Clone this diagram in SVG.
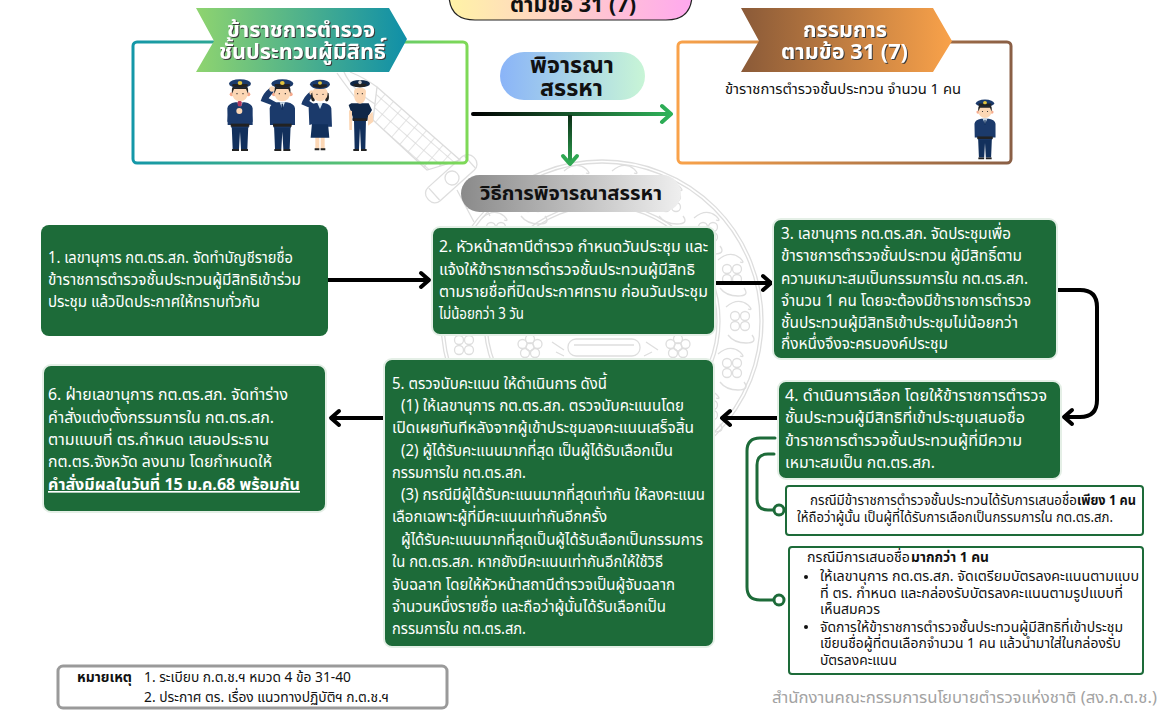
<svg xmlns="http://www.w3.org/2000/svg" width="1159" height="719" viewBox="0 0 1159 719">
<style>
text{font-family:"Noto Sans","Noto Sans Thai","Liberation Sans","DejaVu Sans",sans-serif}
.g{fill:#1d6b39;stroke:#e4efe6;stroke-width:2}
.w{fill:#fff;font-size:16.5px}
.k{fill:#111;font-size:14px}
.b{font-weight:700}
.ban{fill:#fff;font-weight:700;font-size:22px;filter:drop-shadow(1px 1px 0 #3a3a3a)}
.h{fill:#111;font-weight:700}
.ar{fill:none;stroke:#000;stroke-width:4;stroke-linecap:round;stroke-linejoin:round}
.gl{fill:none;stroke:#1d6b39;stroke-width:3;stroke-linecap:round}
.dot{fill:#fff;stroke:#1d6b39;stroke-width:3}
.case{fill:#fff;stroke:#1d6b39;stroke-width:2}
.wm{fill:none;stroke:#dedede;stroke-width:1.300}
.navy{fill:#1b3a6b}
.dk{fill:#12305c}
.blk{fill:#222}
.skin{fill:#fcd7b5}
.ear{fill:#f6a98c}
.gold{fill:#e3c43d}
</style>
<defs>
<linearGradient id="gA" x1="0" x2="1" y1="0" y2="0"><stop offset="0" stop-color="#8fd46f"/><stop offset="1" stop-color="#0f8fa8"/></linearGradient>
<linearGradient id="sA" x1="0" x2="1" y1="0" y2="0"><stop offset="0" stop-color="#1497a8"/><stop offset="1" stop-color="#7ed957"/></linearGradient>
<linearGradient id="gB" x1="0" x2="1" y1="0" y2="0"><stop offset="0" stop-color="#8a5a38"/><stop offset="1" stop-color="#f9a24a"/></linearGradient>
<linearGradient id="sB" x1="0" x2="1" y1="0" y2="0"><stop offset="0" stop-color="#f9a24a"/><stop offset="1" stop-color="#8a5f45"/></linearGradient>
<linearGradient id="gP" x1="0" x2="1" y1="0" y2="0"><stop offset="0" stop-color="#fff3a6"/><stop offset="1" stop-color="#ffa8ee"/></linearGradient>
<linearGradient id="gC" x1="0" x2="1" y1="0" y2="0"><stop offset="0" stop-color="#8ab4f8"/><stop offset="1" stop-color="#c8f5d6"/></linearGradient>
<linearGradient id="gM" x1="0" x2="1" y1="0" y2="0"><stop offset="0" stop-color="#8a8a8a"/><stop offset="1" stop-color="#efefef"/></linearGradient>
<linearGradient id="lH" gradientUnits="userSpaceOnUse" x1="473" x2="672" y1="114" y2="114"><stop offset="0" stop-color="#000"/><stop offset="1" stop-color="#2fb45a"/></linearGradient>
<linearGradient id="lV" gradientUnits="userSpaceOnUse" x1="570" x2="570" y1="114" y2="165"><stop offset="0" stop-color="#0a2a14"/><stop offset="1" stop-color="#2fa853"/></linearGradient>
<pattern id="net" width="11" height="11" patternUnits="userSpaceOnUse" patternTransform="rotate(41)"><path d="M0 0H11M0 0V11" fill="none" stroke="#d8d8d8" stroke-width="1.400"/></pattern>
<g id="orn" class="wm"><circle cx="-5" cy="-5" r="4.500"/><circle cx="5" cy="-5" r="4.500"/><circle cx="-5" cy="5" r="4.500"/><circle cx="5" cy="5" r="4.500"/><path d="M-14 -14 Q-2 -24 8 -16 Q14 -10 8 -12 M12 14 Q18 22 6 22 Q-6 22 -12 14"/></g>
<g id="flower" class="wm"><circle r="4"/><circle cx="0" cy="-8" r="4.500"/><circle cx="7.500" cy="-3" r="4.500"/><circle cx="5" cy="6" r="4.500"/><circle cx="-5" cy="6" r="4.500"/><circle cx="-7.500" cy="-3" r="4.500"/></g>
<g id="head">
<circle class="ear" cx="-25" cy="58" r="6"/><circle class="ear" cx="25" cy="58" r="6"/>
<circle class="skin" cy="55" r="24"/>
<path class="blk" d="M-24 56 Q-26 38 -20 34 H20 Q26 38 24 56 L18 42 H-18Z"/>
<circle class="blk" cx="-9" cy="56" r="2"/><circle class="blk" cx="9" cy="56" r="2"/>
<ellipse class="navy" cy="26" rx="33" ry="13"/>
<path class="blk" d="M-24 33 Q0 44 24 33 L22 27 H-22Z"/>
<ellipse class="gold" cy="24" rx="7" ry="6"/>
</g>
<g id="man">
<path class="dk" d="M-25 150 H25 L22 222 H3 L0 170 L-3 222 H-22Z"/>
<path class="blk" d="M-24 222 H-3 V228 H-24Z M3 222 H24 V228 H3Z"/>
<path class="navy" d="M-37 150 L-38 100 Q-36 86 -14 82 H14 Q36 86 38 100 L38 150 H26 V158 H-26 V150Z"/>
<path d="M-8 82 L0 102 L8 82Z" fill="#dcebf5"/><path class="dk" d="M-2 86 H2 L3 104 H-3Z"/>
<rect class="blk" x="-28" y="146" width="56" height="9"/>
<use href="#head"/>
</g>
</defs>
<g id="watermark">
<circle class="wm" cx="602" cy="321" r="161"/><circle class="wm" cx="602" cy="321" r="158"/><circle class="wm" cx="602" cy="321" r="118"/><circle class="wm" cx="602" cy="321" r="115"/>
<use href="#orn" x="626" y="185"/><use href="#orn" x="671" y="202"/><use href="#orn" x="708" y="232"/><use href="#orn" x="732" y="274"/><use href="#orn" x="740" y="321"/><use href="#orn" x="732" y="368"/><use href="#orn" x="708" y="410"/>
<use href="#orn" x="578" y="185"/><use href="#orn" x="533" y="202"/><use href="#orn" x="496" y="232"/><use href="#orn" x="464" y="345"/>
<use href="#flower" x="530" y="347"/><use href="#flower" x="678" y="347"/>
<rect class="wm" x="568" y="339" width="72" height="17" rx="8"/><path class="wm" d="M574 345 H634 M552 342 L564 350 M646 342 L658 350 M556 352 L564 356 M644 356 L652 352"/>
<path d="M377 87 L460 160 L427 170 L373 120Z" fill="url(#net)" stroke="#dcdcdc" stroke-width="1.300"/>
<path class="wm" d="M337 73 Q345 85 373 120 M350 72 Q365 78 377 87 M344 72 Q352 90 375 104"/>
<g class="wm" transform="translate(452 178) rotate(-42)"><rect x="-32" y="-9" width="62" height="18" rx="8"/><circle r="7"/><path d="M-24 -8 V8 M24 -8 V8"/></g>
<path class="wm" d="M457 190 L474 222 M472 184 L490 216 M461 199 L478 190 M467 209 L484 200"/>
</g>
<g id="pill-top">
<path d="M449 -30 H692 V-6 Q692 20 666 20 H475 Q449 20 449 -6Z" fill="url(#gP)" stroke="#222" stroke-width="1.200"/>
<text class="h" x="510" y="12" font-size="21" textLength="126" lengthAdjust="spacingAndGlyphs">ตามข้อ 31 (7)</text>
</g>
<g id="group-officers">
<rect x="133" y="42" width="334" height="121" rx="4" fill="none" stroke="url(#sA)" stroke-width="3"/>
<path d="M196 8 H389 L407 39 L389 72 H196 L214 41Z" fill="url(#gA)"/>
<text class="ban" x="227" y="37" textLength="148" lengthAdjust="spacingAndGlyphs">ข้าราชการตำรวจ</text>
<text class="ban" x="219" y="59" textLength="167" lengthAdjust="spacingAndGlyphs">ชั้นประทวนผู้มีสิทธิ์</text>
<g transform="translate(220 75) scale(.3333)">
<use href="#man" x="60"/>
<path class="navy" d="M22 140 L26 100 L58 112 L50 140Z M98 140 L94 100 L64 112 L70 140Z"/><circle class="skin" cx="58" cy="108" r="9"/><rect x="53" y="78" width="12" height="16" rx="4" fill="#b0355a"/>
<use href="#man" x="187"/>
<path class="navy" d="M160 92 L122 78 Q128 55 150 38 L161 50 L146 70 L172 84Z"/><circle class="skin" cx="156" cy="42" r="8"/>
<g transform="translate(300 0)">
<path class="skin" d="M-14 185 H-2 V222 H-14Z M2 185 H14 V222 H2Z"/><path class="blk" d="M-16 220 H-2 V226 H-16Z M2 220 H16 V226 H2Z"/>
<path class="dk" d="M-24 145 H24 L28 188 H-28Z"/>
<path class="navy" d="M-32 150 L-34 100 Q-32 88 -12 84 H12 Q32 88 34 100 L36 155 H24 V148 H-24Z"/>
<path d="M-8 84 L0 102 L8 84Z" fill="#dcebf5"/>
<path class="navy" d="M-28 100 L-56 88 Q-50 65 -30 50 L-20 60 L-32 78 L-14 90Z"/><circle class="skin" cx="-25" cy="53" r="7"/>
<path class="blk" d="M-26 55 Q-30 85 -16 78 L-16 50Z M26 55 Q30 85 16 78 L16 50Z"/>
<circle class="skin" cy="56" r="23"/><circle class="blk" cx="-9" cy="58" r="2"/><circle class="blk" cx="9" cy="58" r="2"/>
<ellipse class="navy" cy="28" rx="30" ry="14"/><path class="blk" d="M-22 34 Q0 44 22 34 L20 28 H-20Z"/><ellipse class="gold" cy="24" rx="6" ry="5"/>
</g>
<g transform="translate(420 0)">
<path class="dk" d="M-18 135 H18 L16 222 H3 L0 160 L-3 222 H-16Z"/><path class="blk" d="M-20 222 H-3 V228 H-20Z M3 222 H20 V228 H3Z"/>
<path d="M-34 90 L-26 85 H26 L36 105 L24 125 L22 135 H-22 L-22 125Z" fill="#0f2748"/>
<path class="skin" d="M-33 106 L-24 108 L-24 165 L-32 165Z M24 122 L38 110 L40 140 L24 152Z"/>
<rect class="blk" x="-22" y="130" width="44" height="8"/>
<path class="skin" d="M-18 50 Q-18 38 0 38 Q18 38 18 50 L16 72 Q10 86 0 86 Q-10 86 -16 72Z"/><circle class="blk" cx="-7" cy="56" r="1.800"/><circle class="blk" cx="7" cy="56" r="1.800"/>
<ellipse cx="0" cy="26" rx="30" ry="11" fill="#0f2748"/><path class="blk" d="M-20 32 Q0 42 20 32 L18 26 H-18Z"/><ellipse cy="22" rx="5" ry="6" fill="#c9c9c9"/>
</g>
</g>
</g>
<g id="group-committee">
<rect x="678" y="42" width="333" height="121" rx="4" fill="none" stroke="url(#sB)" stroke-width="3"/>
<path d="M741 8 H933 L952 41 L933 72 H741 L759 41Z" fill="url(#gB)"/>
<text class="ban" x="803" y="37" textLength="84" lengthAdjust="spacingAndGlyphs">กรรมการ</text>
<text class="ban" x="781" y="59" textLength="127" lengthAdjust="spacingAndGlyphs">ตามข้อ 31 (7)</text>
<text class="k" x="725" y="94" textLength="236" lengthAdjust="spacingAndGlyphs">ข้าราชการตำรวจชั้นประทวน จำนวน 1 คน</text>
<g transform="translate(985 96) scale(.277)"><use href="#man"/></g>
</g>
<g id="pill-consider">
<rect x="500" y="52" width="145" height="48" rx="24" fill="url(#gC)"/>
<text class="h" x="530" y="73" font-size="23" textLength="84" lengthAdjust="spacingAndGlyphs">พิจารณา</text>
<text class="h" x="540" y="96" font-size="23" textLength="63" lengthAdjust="spacingAndGlyphs">สรรหา</text>
</g>
<g id="pill-method">
<rect x="461" y="175" width="220" height="37" rx="18.500" fill="url(#gM)"/>
<text class="h" x="480" y="200" font-size="19" textLength="182" lengthAdjust="spacingAndGlyphs">วิธีการพิจารณาสรรหา</text>
</g>
<g id="connectors">
<path d="M473 114 H670 M662 106 L671 114 L662 122" fill="none" stroke="url(#lH)" stroke-width="4" stroke-linecap="round" stroke-linejoin="round"/>
<path d="M570 115 V163" fill="none" stroke="url(#lV)" stroke-width="4"/>
<path d="M563 156 L570 164 L577 156" fill="none" stroke="#2fa853" stroke-width="4" stroke-linecap="round" stroke-linejoin="round"/>
<path class="ar" d="M328 280 H428 M421 273 L429 280 L421 287"/>
<path class="ar" d="M716 283 H770 M763 276 L771 283 L763 290"/>
<path class="ar" d="M1058 290 H1080 Q1097 290 1097 307 V400 Q1097 417 1080 417 H1065 M1072 410 L1064 417 L1072 424"/>
<path class="ar" d="M778 418 H723 M730 411 L722 418 L730 425"/>
<path class="ar" d="M384 418 H332 M339 411 L331 418 L339 425"/>
<path class="gl" d="M775 438 H760 Q747 438 747 451 V587 Q747 600 760 600 H774"/>
<path class="gl" d="M774 454 H768 Q757 454 757 465 V499 Q757 510 768 510 H774"/>
</g>
<g id="step1"><rect class="g" x="41" y="225" width="287" height="111" rx="8" stroke="none" style="stroke:none"/>
<text class="w" x="48" y="263" textLength="245" lengthAdjust="spacingAndGlyphs">1. เลขานุการ กต.ตร.สภ. จัดทำบัญชีรายชื่อ</text>
<text class="w" x="48" y="285" textLength="253" lengthAdjust="spacingAndGlyphs">ข้าราชการตำรวจชั้นประทวนผู้มีสิทธิเข้าร่วม</text>
<text class="w" x="48" y="307" textLength="212" lengthAdjust="spacingAndGlyphs">ประชุม แล้วปิดประกาศให้ทราบทั่วกัน</text></g>
<g id="step2"><rect class="g" x="432" y="227" width="283" height="108" rx="8"/>
<text class="w" x="439" y="252" textLength="269" lengthAdjust="spacingAndGlyphs">2. หัวหน้าสถานีตำรวจ กำหนดวันประชุม และ</text>
<text class="w" x="439" y="275" textLength="256" lengthAdjust="spacingAndGlyphs">แจ้งให้ข้าราชการตำรวจชั้นประทวนผู้มีสิทธิ</text>
<text class="w" x="439" y="297" textLength="269" lengthAdjust="spacingAndGlyphs">ตามรายชื่อที่ปิดประกาศทราบ ก่อนวันประชุม</text>
<text class="w" x="439" y="319" textLength="85" lengthAdjust="spacingAndGlyphs">ไม่น้อยกว่า 3 วัน</text></g>
<g id="step3"><rect class="g" x="773" y="219" width="284" height="140" rx="8"/>
<text class="w" x="781" y="239" textLength="230" lengthAdjust="spacingAndGlyphs">3. เลขานุการ กต.ตร.สภ. จัดประชุมเพื่อ</text>
<text class="w" x="781" y="261" textLength="241" lengthAdjust="spacingAndGlyphs">ข้าราชการตำรวจชั้นประทวน ผู้มีสิทธิ์ตาม</text>
<text class="w" x="781" y="284" textLength="247" lengthAdjust="spacingAndGlyphs">ความเหมาะสมเป็นกรรมการใน กต.ตร.สภ.</text>
<text class="w" x="781" y="306" textLength="250" lengthAdjust="spacingAndGlyphs">จำนวน 1 คน โดยจะต้องมีข้าราชการตำรวจ</text>
<text class="w" x="781" y="328" textLength="237" lengthAdjust="spacingAndGlyphs">ชั้นประทวนผู้มีสิทธิเข้าประชุมไม่น้อยกว่า</text>
<text class="w" x="781" y="349" textLength="167" lengthAdjust="spacingAndGlyphs">กึ่งหนึ่งจึงจะครบองค์ประชุม</text></g>
<g id="step4"><rect class="g" x="778" y="381" width="283" height="98" rx="8"/>
<text class="w" x="785" y="401" textLength="262" lengthAdjust="spacingAndGlyphs">4. ดำเนินการเลือก โดยให้ข้าราชการตำรวจ</text>
<text class="w" x="785" y="423" textLength="240" lengthAdjust="spacingAndGlyphs">ชั้นประทวนผู้มีสิทธิที่เข้าประชุมเสนอชื่อ</text>
<text class="w" x="785" y="446" textLength="237" lengthAdjust="spacingAndGlyphs">ข้าราชการตำรวจชั้นประทวนผู้ที่มีความ</text>
<text class="w" x="785" y="468" textLength="150" lengthAdjust="spacingAndGlyphs">เหมาะสมเป็น กต.ตร.สภ.</text></g>
<g id="step5"><rect class="g" x="384" y="359" width="330" height="288" rx="8"/>
<text class="w" x="392" y="389" textLength="215" lengthAdjust="spacingAndGlyphs">5. ตรวจนับคะแนน ให้ดำเนินการ ดังนี้</text>
<text class="w" x="401" y="411" textLength="283" lengthAdjust="spacingAndGlyphs">(1) ให้เลขานุการ กต.ตร.สภ. ตรวจนับคะแนนโดย</text>
<text class="w" x="392" y="433" textLength="302" lengthAdjust="spacingAndGlyphs">เปิดเผยทันทีหลังจากผู้เข้าประชุมลงคะแนนเสร็จสิ้น</text>
<text class="w" x="401" y="456" textLength="272" lengthAdjust="spacingAndGlyphs">(2) ผู้ได้รับคะแนนมากที่สุด เป็นผู้ได้รับเลือกเป็น</text>
<text class="w" x="392" y="478" textLength="134" lengthAdjust="spacingAndGlyphs">กรรมการใน กต.ตร.สภ.</text>
<text class="w" x="401" y="500" textLength="304" lengthAdjust="spacingAndGlyphs">(3) กรณีมีผู้ได้รับคะแนนมากที่สุดเท่ากัน ให้ลงคะแนน</text>
<text class="w" x="392" y="522" textLength="215" lengthAdjust="spacingAndGlyphs">เลือกเฉพาะผู้ที่มีคะแนนเท่ากันอีกครั้ง</text>
<text class="w" x="401" y="545" textLength="302" lengthAdjust="spacingAndGlyphs">ผู้ได้รับคะแนนมากที่สุดเป็นผู้ได้รับเลือกเป็นกรรมการ</text>
<text class="w" x="392" y="567" textLength="271" lengthAdjust="spacingAndGlyphs">ใน กต.ตร.สภ. หากยังมีคะแนนเท่ากันอีกให้ใช้วิธี</text>
<text class="w" x="392" y="590" textLength="283" lengthAdjust="spacingAndGlyphs">จับฉลาก โดยให้หัวหน้าสถานีตำรวจเป็นผู้จับฉลาก</text>
<text class="w" x="392" y="612" textLength="274" lengthAdjust="spacingAndGlyphs">จำนวนหนึ่งรายชื่อ และถือว่าผู้นั้นได้รับเลือกเป็น</text>
<text class="w" x="392" y="634" textLength="134" lengthAdjust="spacingAndGlyphs">กรรมการใน กต.ตร.สภ.</text></g>
<g id="step6"><rect class="g" x="43" y="365" width="283" height="147" rx="8"/>
<text class="w" x="48" y="400" textLength="240" lengthAdjust="spacingAndGlyphs">6. ฝ่ายเลขานุการ กต.ตร.สภ. จัดทำร่าง</text>
<text class="w" x="48" y="423" textLength="226" lengthAdjust="spacingAndGlyphs">คำสั่งแต่งตั้งกรรมการใน กต.ตร.สภ.</text>
<text class="w" x="48" y="445" textLength="221" lengthAdjust="spacingAndGlyphs">ตามแบบที่ ตร.กำหนด เสนอประธาน</text>
<text class="w" x="48" y="467" textLength="224" lengthAdjust="spacingAndGlyphs">กต.ตร.จังหวัด ลงนาม โดยกำหนดให้</text>
<text class="w b" x="48" y="490" text-decoration="underline" textLength="252" lengthAdjust="spacingAndGlyphs">คำสั่งมีผลในวันที่ 15 ม.ค.68 พร้อมกัน</text></g>
<g id="case1"><rect class="case" x="786" y="486" width="357" height="49" rx="3"/>
<text class="k" x="810" y="505" textLength="267" lengthAdjust="spacingAndGlyphs">กรณีมีข้าราชการตำรวจชั้นประทวนได้รับการเสนอชื่อ</text>
<text class="k b" x="1077" y="505" textLength="59" lengthAdjust="spacingAndGlyphs">เพียง 1 คน</text>
<text class="k" x="797" y="522" textLength="316" lengthAdjust="spacingAndGlyphs">ให้ถือว่าผู้นั้น เป็นผู้ที่ได้รับการเลือกเป็นกรรมการใน กต.ตร.สภ.</text>
<circle class="dot" cx="779" cy="510" r="5"/></g>
<g id="case2"><rect class="case" x="789" y="547" width="354" height="127" rx="3"/>
<text class="k" x="807" y="562" textLength="103" lengthAdjust="spacingAndGlyphs">กรณีมีการเสนอชื่อ</text>
<text class="k b" x="911" y="562" textLength="78" lengthAdjust="spacingAndGlyphs">มากกว่า 1 คน</text>
<circle cx="806" cy="577" r="2" fill="#111"/><circle cx="806" cy="627" r="2" fill="#111"/>
<text class="k" x="820" y="581" textLength="319" lengthAdjust="spacingAndGlyphs">ให้เลขานุการ กต.ตร.สภ. จัดเตรียมบัตรลงคะแนนตามแบบ</text>
<text class="k" x="820" y="598" textLength="303" lengthAdjust="spacingAndGlyphs">ที่ ตร. กำหนด และกล่องรับบัตรลงคะแนนตามรูปแบบที่</text>
<text class="k" x="820" y="614" textLength="60" lengthAdjust="spacingAndGlyphs">เห็นสมควร</text>
<text class="k" x="820" y="632" textLength="303" lengthAdjust="spacingAndGlyphs">จัดการให้ข้าราชการตำรวจชั้นประทวนผู้มีสิทธิที่เข้าประชุม</text>
<text class="k" x="820" y="648" textLength="301" lengthAdjust="spacingAndGlyphs">เขียนชื่อผู้ที่ตนเลือกจำนวน 1 คน แล้วนำมาใส่ในกล่องรับ</text>
<text class="k" x="820" y="665" textLength="77" lengthAdjust="spacingAndGlyphs">บัตรลงคะแนน</text>
<circle class="dot" cx="779" cy="600" r="5"/></g>
<g id="note"><rect x="58" y="666" width="389" height="42" rx="5" fill="#fff" stroke="#9a9a9a" stroke-width="3"/>
<text class="k b" x="77" y="682" textLength="55" lengthAdjust="spacingAndGlyphs">หมายเหตุ</text>
<text class="k" x="144" y="682" textLength="207" lengthAdjust="spacingAndGlyphs">1. ระเบียบ ก.ต.ช.ฯ หมวด 4 ข้อ 31-40</text>
<text class="k" x="144" y="702" textLength="245" lengthAdjust="spacingAndGlyphs">2. ประกาศ ตร. เรื่อง แนวทางปฏิบัติฯ ก.ต.ช.ฯ</text></g>
<text id="footer" x="772" y="703" font-size="16" fill="#a3a3a3" textLength="385" lengthAdjust="spacingAndGlyphs">สำนักงานคณะกรรมการนโยบายตำรวจแห่งชาติ (สง.ก.ต.ช.)</text>
</svg>
